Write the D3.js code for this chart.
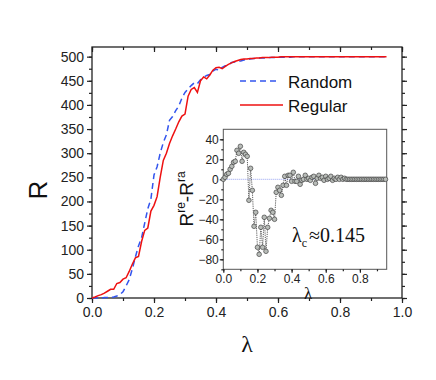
<!DOCTYPE html>
<html>
<head>
<meta charset="utf-8">
<script src="https://cdn.jsdelivr.net/npm/d3@7"></script>
<style>
  body { margin: 0; background: #fff; }
  svg { display: block; font-family: "Liberation Sans", Arial, sans-serif; }
</style>
</head>
<body>
<div id="chart"></div>
<script>
// lambda grid: values are sampled every 0.01 from 0.00 to 0.95
const LAMBDA_STEP = 0.01;

const randomR = [
  0, 0, 0, 0, 1, 1, 1, 2, 4, 7,
  13, 25, 38, 60, 85, 108, 125, 155, 185, 205,
  255, 272, 300, 322, 338, 368, 376, 388, 398, 414,
  426, 433, 440, 446, 444, 452, 457, 461, 463, 470,
  474, 472, 478, 481, 482, 488, 489, 491, 491, 493,
  494, 495, 496, 496, 497, 497, 497, 498, 498, 498,
  499, 499, 499, 499, 499, 500, 500, 500, 500, 500,
  500, 500, 500, 500, 500, 500, 500, 500, 500, 500,
  500, 500, 500, 500, 500, 500, 500, 500, 500, 500,
  500, 500, 500, 500, 500, 500
];

const regularR = [
  0, 2, 5, 7, 10, 14, 18, 18, 30, 32,
  39, 42, 55, 70, 83, 86, 117, 140, 145, 180,
  192, 210, 250, 285, 300, 320, 336, 350, 365, 377,
  381, 418, 432, 436, 426, 450, 458, 454, 462, 472,
  477, 478, 475, 480, 484, 487, 490, 492, 494, 495,
  495, 496, 496, 497, 497, 498, 498, 498, 499, 499,
  499, 500, 500, 500, 500, 500, 500, 500, 500, 500,
  500, 500, 500, 500, 500, 500, 500, 500, 500, 500,
  500, 500, 500, 500, 500, 500, 500, 500, 500, 500,
  500, 500, 500, 500, 500, 500
];

// inset: R^re - R^ra
const diffR = [
  0, 2, 5, 6, 10, 13, 17, 18, 29, 26,
  33, 18, 27, 25, 23, -21, 11, -11, -47, -33,
  -68, -75, -48, -68, -38, -72, -48, -39, -31, -33,
  -40, -13, -8, -11, -16, -6, 3, -6, 4, 4,
  -2, 7, -2, -2, 3, -5, -1, 0, 4, 0,
  1, -1, 2, 3, -4, 1, 4, 1, 2, -1,
  3, 0, 1, 3, -1, 1, 0, 2, 0, 2,
  0, 1, 0, 0, 0, 0, 0, 0, 0, 0,
  0, 0, 0, 0, 0, 0, 0, 0, 0, 0,
  0, 0, 0, 0, 0, 0
];

const xTickLabels = [0, 0.2, 0.4, 0.6, 0.8, 1.0];
const yTickLabels = [0, 50, 100, 150, 200, 250, 300, 350, 400, 450, 500];
const insetXTicks = [0, 0.2, 0.4, 0.6, 0.8];
const insetYTicks = [-80, -60, -40, -20, 0, 20, 40];
const seriesNames = ["Random", "Regular"];

const W = 436, H = 380;
const svg = d3.select("#chart").append("svg").attr("width", W).attr("height", H);

// ==================== main plot =====================
const x = d3.scaleLinear().domain([0, 1]).range([92, 402]);
const y = d3.scaleLinear().domain([0, 520]).range([298, 47]);

const minorX = d3.range(0, 1.0001, 0.1);
const minorY = d3.range(0, 520, 25);

function styleAxis(g, fontSize) {
  g.select(".domain").remove();
  g.selectAll("line").attr("stroke", "#222").attr("stroke-width", 1.2);
  g.selectAll("text").attr("fill", "#222").style("font-size", fontSize + "px");
}

// bottom
svg.append("g").attr("transform", `translate(0,${y(0)})`)
  .call(d3.axisBottom(x).tickValues(minorX).tickSize(3).tickFormat(""))
  .call(g => styleAxis(g, 14));
svg.append("g").attr("transform", `translate(0,${y(0)})`)
  .call(d3.axisBottom(x).tickValues(xTickLabels).tickSize(5).tickPadding(4).tickFormat(d3.format(".1f")))
  .call(g => styleAxis(g, 14));
// top (inward)
svg.append("g").attr("transform", `translate(0,${y.range()[1]})`)
  .call(d3.axisBottom(x).tickValues(minorX).tickSize(3).tickFormat(""))
  .call(g => styleAxis(g, 14));
svg.append("g").attr("transform", `translate(0,${y.range()[1]})`)
  .call(d3.axisBottom(x).tickValues(xTickLabels).tickSize(5).tickFormat(""))
  .call(g => styleAxis(g, 14));
// left
svg.append("g").attr("transform", `translate(${x(0)},0)`)
  .call(d3.axisLeft(y).tickValues(minorY).tickSize(3).tickFormat(""))
  .call(g => styleAxis(g, 14));
svg.append("g").attr("transform", `translate(${x(0)},0)`)
  .call(d3.axisLeft(y).tickValues(yTickLabels).tickSize(5).tickPadding(3))
  .call(g => styleAxis(g, 14));
// right
svg.append("g").attr("transform", `translate(${x(1)},0)`)
  .call(d3.axisRight(y).tickValues(minorY).tickSize(3).tickFormat(""))
  .call(g => styleAxis(g, 14));
svg.append("g").attr("transform", `translate(${x(1)},0)`)
  .call(d3.axisRight(y).tickValues(yTickLabels).tickSize(5).tickFormat(""))
  .call(g => styleAxis(g, 14));

svg.append("rect")
  .attr("x", x(0)).attr("y", y.range()[1])
  .attr("width", x(1) - x(0)).attr("height", y(0) - y.range()[1])
  .attr("fill", "none").attr("stroke", "#222").attr("stroke-width", 1.3);

const mainLine = d3.line().x((d, i) => x(i * LAMBDA_STEP)).y(d => y(d));

svg.append("path").datum(randomR)
  .attr("d", mainLine)
  .attr("fill", "none").attr("stroke", "#3355ee").attr("stroke-width", 1.5)
  .attr("stroke-dasharray", "6,4");
svg.append("path").datum(regularR)
  .attr("d", mainLine)
  .attr("fill", "none").attr("stroke", "#ee1111").attr("stroke-width", 1.5);

// legend
const legend = svg.append("g");
legend.append("line").attr("x1", 240).attr("x2", 279).attr("y1", 81).attr("y2", 81)
  .attr("stroke", "#3355ee").attr("stroke-width", 1.5).attr("stroke-dasharray", "6,4");
legend.append("line").attr("x1", 240).attr("x2", 283).attr("y1", 105).attr("y2", 105)
  .attr("stroke", "#ee1111").attr("stroke-width", 1.5);
legend.selectAll("text").data(seriesNames).enter().append("text")
  .attr("x", 288).attr("y", (d, i) => 88 + i * 24)
  .style("font-size", "17px").attr("fill", "#111")
  .text(d => d);

// axis titles
svg.append("text")
  .attr("transform", "translate(47,190) rotate(-90)")
  .attr("text-anchor", "middle")
  .style("font-size", "26px").attr("fill", "#111")
  .text("R");
svg.append("text")
  .attr("x", 247).attr("y", 352)
  .attr("text-anchor", "middle")
  .style("font-family", "'Liberation Serif', serif")
  .style("font-size", "24px").attr("fill", "#111")
  .text("λ");

// ==================== inset =====================
const ix = d3.scaleLinear().domain([0, 0.957]).range([223.3, 386.7]);
const iy = d3.scaleLinear().domain([-90, 50]).range([269.3, 129.3]);

svg.append("rect")
  .attr("x", ix.range()[0]).attr("y", iy.range()[1])
  .attr("width", ix.range()[1] - ix.range()[0]).attr("height", iy.range()[0] - iy.range()[1])
  .attr("fill", "#fff").attr("stroke", "#555").attr("stroke-width", 1);

svg.append("g").attr("transform", `translate(0,${iy.range()[0]})`)
  .call(d3.axisBottom(ix).tickValues(d3.range(0, 0.951, 0.1)).tickSize(2).tickFormat(""))
  .call(g => styleAxis(g, 12));
svg.append("g").attr("transform", `translate(0,${iy.range()[0]})`)
  .call(d3.axisBottom(ix).tickValues(insetXTicks).tickSize(3.5).tickPadding(2).tickFormat(d3.format(".1f")))
  .call(g => styleAxis(g, 12));
svg.append("g").attr("transform", `translate(${ix.range()[0]},0)`)
  .call(d3.axisLeft(iy).tickValues(d3.range(-90, 50, 10)).tickSize(2).tickFormat(""))
  .call(g => styleAxis(g, 12));
svg.append("g").attr("transform", `translate(${ix.range()[0]},0)`)
  .call(d3.axisLeft(iy).tickValues(insetYTicks).tickSize(3.5).tickPadding(1))
  .call(g => styleAxis(g, 12));

// zero reference
svg.append("line")
  .attr("x1", ix(0)).attr("x2", ix.range()[1])
  .attr("y1", iy(0)).attr("y2", iy(0))
  .attr("stroke", "#7788ee").attr("stroke-width", 0.8).attr("stroke-dasharray", "1,1");

const insetLine = d3.line().x((d, i) => ix(i * LAMBDA_STEP)).y(d => iy(d));
svg.append("path").datum(diffR)
  .attr("d", insetLine)
  .attr("fill", "none").attr("stroke", "#333").attr("stroke-width", 0.8)
  .attr("stroke-dasharray", "1.2,1");

svg.append("g").selectAll("circle").data(diffR).enter().append("circle")
  .attr("cx", (d, i) => ix(i * LAMBDA_STEP)).attr("cy", d => iy(d))
  .attr("r", 2.3)
  .attr("fill", "#b8bcb8").attr("stroke", "#444").attr("stroke-width", 0.7);

// inset titles
const yl = svg.append("text")
  .attr("transform", "translate(193,199) rotate(-90)")
  .attr("text-anchor", "middle")
  .style("font-size", "19px").attr("fill", "#111");
yl.append("tspan").text("R");
yl.append("tspan").attr("dy", -8).style("font-size", "12px").text("re");
yl.append("tspan").attr("dy", 8).text("-R");
yl.append("tspan").attr("dy", -8).style("font-size", "12px").text("ra");

svg.append("text")
  .attr("x", 308).attr("y", 299)
  .attr("text-anchor", "middle")
  .style("font-family", "'Liberation Serif', serif")
  .style("font-size", "17px").attr("fill", "#111")
  .text("λ");

const lc = svg.append("text")
  .attr("x", 292).attr("y", 242)
  .style("font-family", "'Liberation Serif', 'DejaVu Serif', serif")
  .style("font-size", "20px").attr("fill", "#111");
lc.append("tspan").text("λ");
lc.append("tspan").attr("dy", 5).style("font-size", "12px").text("c");
lc.append("tspan").attr("dy", -5).attr("dx", 2).text("≈0.145");
</script>
</body>
</html>
